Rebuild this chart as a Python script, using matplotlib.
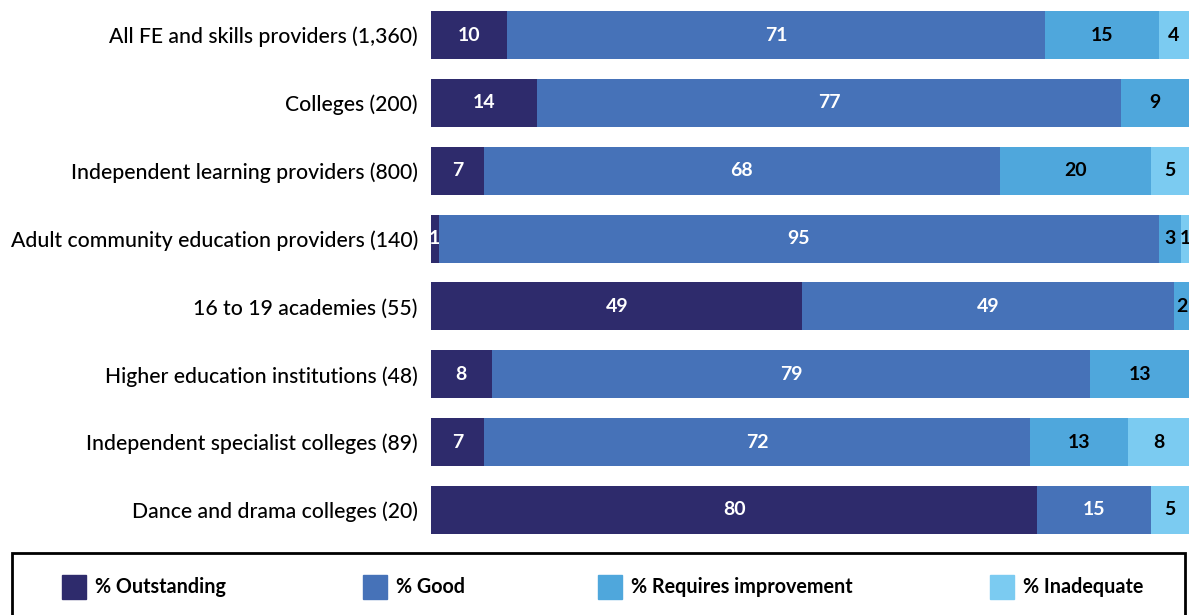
import numpy as np
import matplotlib.pyplot as plt
from matplotlib.patches import Rectangle

plt.rcParams['font.family'] = ['Lato', 'DejaVu Sans']

categories = [
    "All FE and skills providers (1,360)",
    "Colleges (200)",
    "Independent learning providers (800)",
    "Adult community education providers (140)",
    "16 to 19 academies (55)",
    "Higher education institutions (48)",
    "Independent specialist colleges (89)",
    "Dance and drama colleges (20)",
]
outstanding = [10, 14, 7, 1, 49, 8, 7, 80]
good = [71, 77, 68, 95, 49, 79, 72, 15]
requires_improvement = [15, 9, 20, 3, 2, 13, 13, 0]
inadequate = [4, 0, 5, 1, 0, 0, 8, 5]

series_names = ["% Outstanding", "% Good", "% Requires improvement", "% Inadequate"]
colors = ["#2e2b6c", "#4672b8", "#4fa7dc", "#7bcbf1"]
text_colors = ["white", "white", "black", "black"]

fig = plt.figure(figsize=(11.89, 6.15), dpi=100)
ax = fig.add_axes([431 / 1189, 1 - 534 / 615, 1 - 431 / 1189, 523 / 615])

y = np.arange(len(categories))
left = np.zeros(len(categories))
for vals, col, tc in zip([outstanding, good, requires_improvement, inadequate], colors, text_colors):
    vals = np.array(vals, dtype=float)
    ax.barh(y, vals, left=left, height=0.71, color=col, edgecolor='none')
    for yi, v, l in zip(y, vals, left):
        if v > 0:
            ax.text(l + v / 2, yi, f"{int(v)}", ha='center', va='center',
                    color=tc, fontsize=14, fontweight='bold')
    left += vals

ax.set_xlim(0, 100)
ax.set_ylim(len(categories) - 1 + 0.355, -0.355)
ax.set_yticks(y)
ax.set_yticklabels(categories, fontsize=15.2, fontweight='medium')
ax.tick_params(axis='y', length=0, pad=9.5)
ax.set_xticks([])
for s in ax.spines.values():
    s.set_visible(False)

# legend box
fig.patches.append(Rectangle((12 / 1189, -0.05), (1185 - 12) / 1189, 0.05 + (615 - 553) / 615,
                             transform=fig.transFigure, fill=False, edgecolor='black', lw=2))
legend_x = [62, 363, 598, 990]
ly = 1 - 587 / 615
for x, name, col in zip(legend_x, series_names, colors):
    fig.patches.append(Rectangle((x / 1189, ly - 12 / 615), 24 / 1189, 24 / 615,
                                 transform=fig.transFigure, color=col))
    fig.text((x + 33) / 1189, ly, name, ha='left', va='center', fontsize=14.2, fontweight='bold')

fig.savefig('out.png', dpi=100)
